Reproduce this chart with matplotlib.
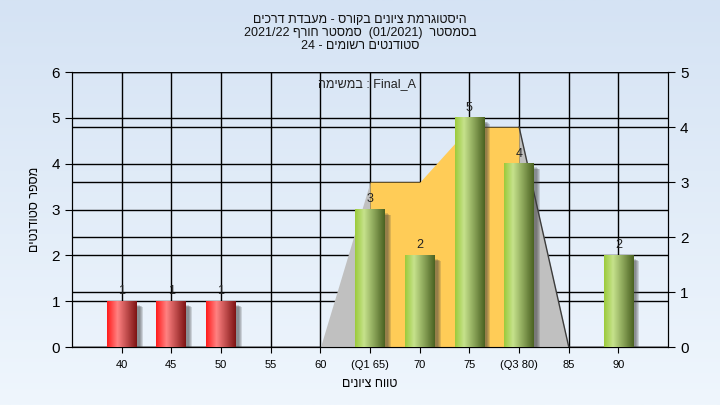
import numpy as np
import matplotlib
matplotlib.use("Agg")
import matplotlib.pyplot as plt
from matplotlib.colors import LinearSegmentedColormap
from matplotlib.patches import Rectangle

plt.rcParams['font.family'] = ['Liberation Sans', 'DejaVu Sans']

# --- data ---
scores = [40, 45, 50, 55, 60, 65, 70, 75, 80, 85, 90]
tick_labels = ['40', '45', '50', '55', '60', '(Q1 65)', '70', '75', '(Q3 80)', '85', '90']
counts = [1, 1, 1, 0, 0, 3, 2, 5, 4, 0, 2]
pass_mark = 55

# box area (right axis scale): whisker start, Q1..Q3, whisker end
box_scores = [60, 65, 70, 75, 80, 85]
box_values = [0, 3, 3, 4, 4, 0]

title_lines = [
    "היסטוגרמת ציונים בקורס - מעבדת דרכים",
    "בסמסטר  (01/2021)  סמסטר חורף 2021/22",
    "סטודנטים רשומים - 24",
]
task_label = "במשימה : Final_A"
x_label = "טווח ציונים"
y_label = "מספר סטודנטים"


def visual(s):
    # small bidi reordering (LTR paragraph) since matplotlib draws glyphs left to right
    def kind(ch):
        if '\u0590' <= ch <= '\u05ff':
            return 'R'
        if ch.isdigit():
            return 'EN'
        if ch.isalpha():
            return 'L'
        if ch in '/,.:':
            return 'CS'
        return 'N'
    t = [kind(c) for c in s]
    # W4: separator between two numbers
    for i in range(1, len(t) - 1):
        if t[i] == 'CS' and t[i - 1] == 'EN' and t[i + 1] == 'EN':
            t[i] = 'EN'
    t = ['N' if k == 'CS' else k for k in t]
    # W7: numbers after L (or start) act as L
    last = 'L'
    for i, k in enumerate(t):
        if k in ('L', 'R'):
            last = k
        elif k == 'EN' and last == 'L':
            t[i] = 'L'
    # N1/N2: neutrals
    i = 0
    while i < len(t):
        if t[i] != 'N':
            i += 1
            continue
        j = i
        while j < len(t) and t[j] == 'N':
            j += 1
        prev = 'L' if i == 0 else ('R' if t[i - 1] in ('R', 'EN') else 'L')
        nxt = 'L' if j == len(t) else ('R' if t[j] in ('R', 'EN') else 'L')
        d = prev if prev == nxt else 'L'
        for k in range(i, j):
            t[k] = d
        i = j
    levels = [{'L': 0, 'R': 1, 'EN': 2}[k] for k in t]
    chars = list(s)
    mirror = {'(': ')', ')': '('}
    chars = [mirror.get(c, c) if lv % 2 else c for c, lv in zip(chars, levels)]
    idx = list(range(len(chars)))
    for lv in range(max(levels + [0]), 0, -1):
        i = 0
        while i < len(idx):
            if levels[idx[i]] >= lv:
                j = i
                while j < len(idx) and levels[idx[j]] >= lv:
                    j += 1
                idx[i:j] = idx[i:j][::-1]
                i = j
            else:
                i += 1
    return ''.join(chars[k] for k in idx)


# --- figure ---
fig = plt.figure(figsize=(7.2, 4.05), dpi=100)

# light blue gradient background
bg = fig.add_axes([0, 0, 1, 1], zorder=-10)
grad = np.linspace(0, 1, 256).reshape(-1, 1)
bg_cmap = LinearSegmentedColormap.from_list('bg', ['#d5e3f4', '#eff6fd'])
bg.imshow(grad, cmap=bg_cmap, aspect='auto', extent=[0, 1, 0, 1], origin='upper')
bg.axis('off')

rect = [0.1, 0.143, 0.828, 0.679]
ax = fig.add_axes(rect)
ax2 = ax.twinx()
ax.set_zorder(ax2.get_zorder() + 1)
ax.patch.set_visible(False)
ax2.patch.set_facecolor('#b4b4b4')

xpos = np.arange(len(scores))
ax.set_xlim(-1, len(scores))
ax.set_ylim(0, 6)
ax2.set_ylim(0, 5)

# grid lines
ax.set_axisbelow(True)
ax.grid(True, color='black', lw=1, zorder=0)
ax2.grid(True, axis='y', color='black', lw=1)

# box-like area (right axis)
bx = [scores.index(s) for s in box_scores]
ax.fill_between(bx[:2], [0, 0], box_values[:2], color='#c0c0c0', lw=0,
                transform=ax2.transData, zorder=1)
ax.fill_between(bx[1:5], [0] * 4, box_values[1:5], color='#ffcc57', lw=0,
                transform=ax2.transData, zorder=1)
ax.fill_between(bx[4:], [0, 0], box_values[4:], color='#c0c0c0', lw=0,
                transform=ax2.transData, zorder=1)
ax.plot(bx[4:], box_values[4:], color='#3c3c3c', lw=1, transform=ax2.transData, zorder=1.5)

# cylinder bars
red_cmap = LinearSegmentedColormap.from_list(
    'red', [(0, '#ff1c1c'), (0.35, '#ff8282'), (1, '#7e1414')])
green_cmap = LinearSegmentedColormap.from_list(
    'green', [(0, '#9ccb3c'), (0.3, '#c6e28c'), (1, '#4b6322')])
bar_w = 0.6
hgrad = np.linspace(0, 1, 64).reshape(1, -1)
for x, s, c in zip(xpos, scores, counts):
    if c == 0:
        continue
    # soft shadow
    for k in range(4):
        ax.add_patch(Rectangle((x - bar_w / 2 + 0.06 + k * 0.02, -0.08 - k * 0.015),
                               bar_w, c, color='#404040', alpha=0.18, lw=0, zorder=2))
    cm = red_cmap if s < pass_mark else green_cmap
    ax.imshow(hgrad, cmap=cm, aspect='auto', zorder=3,
              extent=[x - bar_w / 2, x + bar_w / 2, 0, c], origin='lower')
    ax.annotate(str(c), (x, c), xytext=(0, 3), textcoords='offset points',
                ha='center', va='bottom', fontsize=9, color='#222222', zorder=4)

ax.set_xlim(-1, len(scores))
ax.set_ylim(0, 6)

ax.set_xticks(xpos)
ax.set_xticklabels(tick_labels, fontsize=8)
ax.set_yticks(range(7))
ax.tick_params(axis='y', labelsize=11, length=5)
ax.tick_params(axis='x', length=4, pad=5)
ax2.set_yticks(range(6))
ax2.tick_params(axis='y', labelsize=11, length=5)

for a in (ax, ax2):
    for sp in a.spines.values():
        sp.set_color('black')
    a.spines['top'].set_visible(False)

ax.set_xlabel(visual(x_label), fontsize=9, labelpad=6)
ax.set_ylabel(visual(y_label), fontsize=9, labelpad=8)

ax.text(0.495, 0.955, visual(task_label), transform=ax.transAxes, ha='center', va='center',
        fontsize=9, color='#222222', zorder=5)

fig.text(0.5, 0.966, "\n".join(visual(t) for t in title_lines), ha='center', va='top',
         fontsize=9, linespacing=1.1, color='#111111')

fig.savefig("out.png", dpi=100)
